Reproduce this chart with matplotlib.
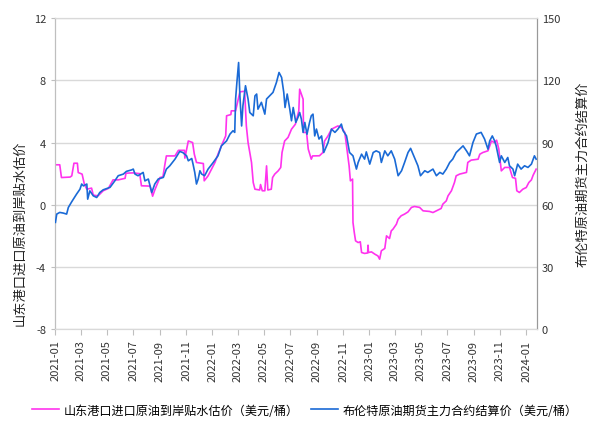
import matplotlib
matplotlib.use("Agg")
import matplotlib.pyplot as plt
import matplotlib.dates as mdates
import pandas as pd

plt.rcParams['font.family'] = ['Noto Sans CJK SC', 'DejaVu Sans']
plt.rcParams['axes.unicode_minus'] = False

start = pd.Timestamp('2021-01-01')

# Shandong port discount estimate (left axis), day offsets from 2021-01-01
pink_days = [0, 10, 14, 34, 38, 43, 51, 53, 62, 67, 73, 84, 88, 99, 111, 123, 134, 146, 162, 164,
             180, 196, 200, 220, 226, 231, 243, 250, 254, 258, 278, 286, 300, 301, 309, 319, 323, 328,
             344, 346, 355, 363, 371, 378, 386, 396, 398, 408, 409, 419, 429, 440, 444, 448, 456, 460,
             464, 475, 477, 481, 487, 491, 494, 502, 505, 510, 518, 524, 527, 533, 541, 549, 558, 566,
             568, 576, 577, 584, 588, 595, 598, 614, 622, 626, 634, 642, 650, 657, 665, 673, 677, 683,
             686, 691, 692, 695, 698, 704, 709, 712, 719, 726, 727, 728, 735, 743, 750, 754, 758, 766,
             770, 777, 781, 785, 793, 797, 804, 812, 820, 828, 835, 847, 855, 870, 878, 886, 897, 901,
             909, 913, 921, 928, 932, 940, 956, 959, 967, 983, 987, 994, 1006, 1014, 1021, 1026, 1031,
             1037, 1045, 1056, 1063, 1070, 1073, 1079, 1087, 1095, 1101, 1107, 1111, 1118]
pink_vals = [2.57, 2.57, 1.75, 1.78, 1.86, 2.67, 2.67, 2.07, 1.97, 1.35, 1.0, 1.07, 0.62, 0.57, 0.9,
             1.05, 1.6, 1.6, 1.7, 2.03, 2.05, 2.0, 1.22, 1.2, 0.55, 0.95, 1.75, 1.8, 2.5, 3.14, 3.14,
             3.5, 3.5, 3.0, 4.1, 4.0, 3.25, 2.72, 2.65, 1.54, 1.86, 2.29, 2.72, 3.25, 3.79, 4.43, 5.72,
             5.8, 6.04, 6.04, 7.26, 7.3, 5.07, 4.0, 2.72, 1.43, 1.0, 0.95, 1.3, 0.9, 0.9, 2.5, 0.95,
             1.0, 1.75, 1.97, 2.18, 2.4, 3.36, 4.1, 4.33, 4.86, 5.18, 6.04, 7.43, 6.79, 4.65, 4.65,
             3.58, 2.93, 3.14, 3.15, 3.36, 4.1, 4.43, 4.86, 4.97, 5.07, 4.97, 4.65, 3.79, 2.5, 1.54,
             1.65, -1.14, -1.78, -2.32, -2.43, -2.38, -3.07, -3.13, -3.1, -2.6, -3.07, -3.03, -3.18,
             -3.29, -3.5, -2.96, -2.81, -2.0, -2.17, -1.68, -1.57, -1.25, -0.93, -0.71, -0.6, -0.46,
             -0.17, -0.11, -0.17, -0.39, -0.43, -0.5, -0.39, -0.24, 0.04, 0.25, 0.57, 0.9, 1.43, 1.86,
             1.97, 2.08, 2.72, 2.87, 2.93, 3.25, 3.36, 3.47, 4.1, 4.0, 4.15, 3.6, 2.18, 2.4, 2.4, 1.75,
             1.7, 0.9, 0.79, 1.0, 1.11, 1.43, 1.6, 1.9, 2.29]

# Brent main contract settlement price (right axis)
blue_days = [0, 3, 10, 18, 26, 30, 38, 49, 57, 61, 65, 73, 75, 80, 88, 96, 103, 111, 127, 138, 146,
             158, 165, 177, 181, 185, 192, 204, 208, 216, 224, 231, 239, 251, 258, 266, 278, 289, 296,
             305, 309, 317, 320, 324, 328, 332, 336, 340, 347, 355, 367, 378, 386, 398, 406, 413, 417,
             419, 422, 426, 429, 433, 436, 442, 448, 452, 460, 464, 468, 471, 479, 487, 491, 498, 506,
             514, 520, 526, 531, 534, 539, 545, 549, 553, 559, 564, 568, 572, 576, 580, 585, 591, 595,
             599, 603, 607, 613, 619, 624, 629, 634, 642, 650, 657, 665, 669, 677, 684, 692, 700, 704,
             712, 719, 723, 731, 739, 746, 754, 758, 766, 773, 781, 789, 797, 805, 812, 820, 826, 835,
             843, 849, 859, 866, 878, 886, 894, 901, 909, 917, 924, 932, 940, 948, 956, 963, 971, 979,
             990, 998, 1006, 1010, 1016, 1021, 1025, 1029, 1033, 1037, 1045, 1052, 1056, 1064, 1068,
             1075, 1083, 1091, 1099, 1107, 1114, 1118]
blue_vals = [51.5, 55.5, 56.3, 56.0, 55.5, 58.7, 61.5, 65.1, 67.5, 70.0, 69.1, 70.0, 62.7, 66.7, 64.3,
             63.5, 65.9, 67.2, 68.4, 71.5, 74.0, 74.8, 76.1, 76.8, 77.2, 74.8, 74.0, 75.6, 71.5, 72.4,
             65.9, 70.0, 72.4, 73.2, 77.2, 78.8, 82.0, 85.7, 85.2, 83.6, 81.2, 82.3, 79.6, 75.6, 70.0,
             72.4, 76.4, 74.8, 74.0, 77.2, 80.4, 83.6, 88.4, 90.8, 94.1, 95.7, 94.9, 111.0, 119.0,
             128.6, 112.5, 98.0, 107.7, 117.4, 111.0, 104.5, 102.9, 112.5, 113.4, 106.1, 109.4, 103.7,
             111.0, 112.5, 114.2, 119.0, 123.8, 121.4, 114.2, 106.9, 113.4, 106.1, 100.5, 106.9, 99.7,
             102.1, 104.5, 101.3, 94.9, 99.7, 94.0, 99.7, 102.9, 103.7, 93.2, 96.5, 91.7, 93.2, 85.2,
             87.6, 90.0, 96.5, 94.9, 96.5, 98.9, 95.7, 93.2, 85.2, 83.6, 77.2, 80.4, 84.4, 82.0, 85.5,
             79.6, 85.2, 86.0, 85.2, 80.4, 86.0, 83.6, 86.0, 82.0, 74.0, 76.4, 80.4, 85.2, 87.2, 82.8,
             78.8, 74.0, 76.4, 75.6, 77.2, 74.0, 75.6, 74.8, 77.2, 80.4, 82.0, 85.2, 86.8, 88.4, 86.0,
             83.6, 90.0, 94.1, 94.9, 91.7, 86.8, 90.8, 93.2, 91.0, 88.4, 84.4, 80.4, 83.6, 80.4, 82.8,
             78.8, 77.2, 74.0, 79.6, 77.2, 78.8, 78.0, 79.6, 83.6, 82.0]

left_ticks = [-8, -4, 0, 4, 8, 12]
right_ticks = [0, 30, 60, 90, 120, 150]
pink_label = '山东港口进口原油到岸贴水估价（美元/桶）'
blue_label = '布伦特原油期货主力合约结算价（美元/桶）'
left_ylabel = '山东港口进口原油到岸贴水估价'
right_ylabel = '布伦特原油期货主力合约结算价'

pink_dates = [start + pd.Timedelta(days=d) for d in pink_days]
blue_dates = [start + pd.Timedelta(days=d) for d in blue_days]

fig = plt.figure(figsize=(5.98, 4.35), dpi=100)
ax = fig.add_axes([0.092, 0.241, 0.806, 0.715])
ax2 = ax.twinx()

pink_color = '#FF33EE'
blue_color = '#1A6AD6'

l1, = ax.plot(pink_dates, pink_vals, color=pink_color, lw=1.2, label=pink_label, zorder=2)
l2, = ax2.plot(blue_dates, blue_vals, color=blue_color, lw=1.2, label=blue_label, zorder=3)

ax.set_ylim(-8, 12)
ax.set_yticks(left_ticks)
ax2.set_ylim(0, 150)
ax2.set_yticks(right_ticks)
ax.set_xlim(start - pd.Timedelta(days=1), start + pd.Timedelta(days=1120))

ax.xaxis.set_major_locator(mdates.MonthLocator(bymonth=[1, 3, 5, 7, 9, 11]))
ax.xaxis.set_major_formatter(mdates.DateFormatter('%Y-%m'))
for lab in ax.get_xticklabels():
    lab.set_rotation(90)

ax.grid(axis='y', color='#d9d9d9', lw=1)
ax.set_axisbelow(True)
for a in (ax, ax2):
    a.spines['top'].set_color('#d9d9d9')
    a.spines['bottom'].set_color('#d9d9d9')
    a.spines['left'].set_color('#bfbfbf')
    a.spines['right'].set_color('#999999')
ax.tick_params(axis='x', labelsize=8, length=4, color='#bfbfbf', colors='#333333')
ax.tick_params(axis='y', labelsize=8, length=3, color='#bfbfbf', colors='#333333')
ax2.tick_params(axis='y', labelsize=8, length=0, colors='#333333')
for lab in ax.get_xticklabels():
    lab.set_color('#333333')

ax.set_ylabel(left_ylabel, fontsize=9.5, color='#222222')
ax.yaxis.set_label_coords(-0.06, 0.31)
ax2.set_ylabel(right_ylabel, fontsize=9.5, color='#222222')
ax2.yaxis.set_label_coords(1.081, 0.5)

fig.legend(handles=[l1, l2], loc='center', bbox_to_anchor=(0.51, 0.055), ncol=2,
           frameon=False, fontsize=8.7, handlelength=2.2, columnspacing=1.0, handletextpad=0.4)

fig.savefig('out.png', dpi=100)
